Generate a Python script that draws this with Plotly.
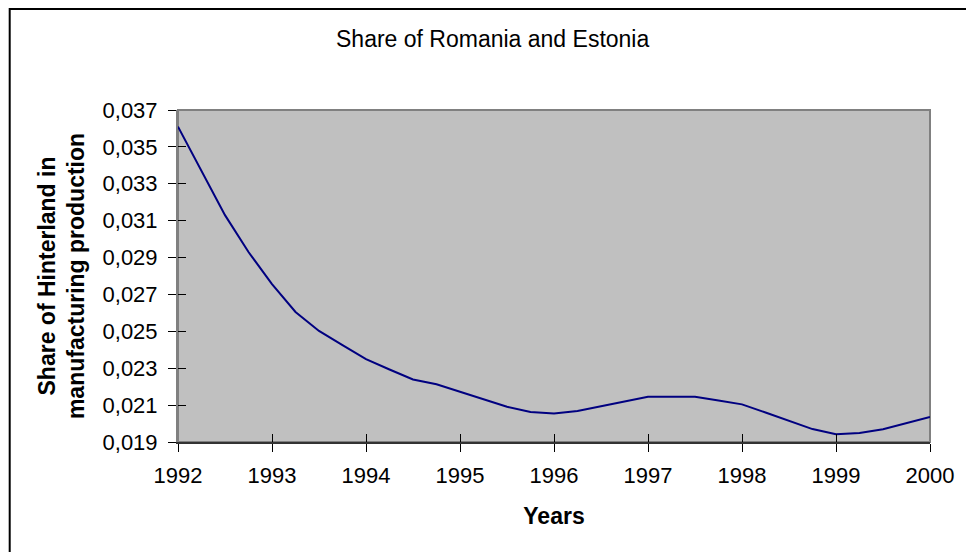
import plotly.graph_objects as go

# quarterly observations, 1992 Q1 .. 2000 Q1
years = [1992.00, 1992.25, 1992.50, 1992.75, 1993.00, 1993.25, 1993.50, 1993.75,
         1994.00, 1994.25, 1994.50, 1994.75, 1995.00, 1995.25, 1995.50, 1995.75,
         1996.00, 1996.25, 1996.50, 1996.75, 1997.00, 1997.25, 1997.50, 1997.75,
         1998.00, 1998.25, 1998.50, 1998.75, 1999.00, 1999.25, 1999.50, 1999.75,
         2000.00]
share = [0.0361, 0.0337, 0.0313, 0.0293, 0.02756, 0.02605, 0.02502, 0.02425,
         0.02349, 0.02293, 0.02239, 0.02213, 0.02172, 0.02131, 0.02091, 0.02063,
         0.02055, 0.02068, 0.02094, 0.0212, 0.02145, 0.02145, 0.02145, 0.02125,
         0.02104, 0.0206, 0.02015, 0.0197, 0.01942, 0.01949, 0.01969, 0.02002,
         0.02036]
year_ticks = [1992, 1993, 1994, 1995, 1996, 1997, 1998, 1999, 2000]
y_ticks = [0.019, 0.021, 0.023, 0.025, 0.027, 0.029, 0.031, 0.033, 0.035, 0.037]

FONT = "Liberation Sans, Arial, sans-serif"

fig = go.Figure()
fig.add_trace(go.Scatter(x=years, y=share, mode="lines",
                         line=dict(color="#000080", width=2), showlegend=False))
# invisible copy on the overlay axes, so the inner half of the cross ticks is drawn
fig.add_trace(go.Scatter(x=years, y=share, mode="lines", xaxis="x2", yaxis="y2",
                         line=dict(color="rgba(0,0,0,0)", width=0),
                         hoverinfo="skip", showlegend=False))

fig.update_layout(
    width=966, height=552,
    margin=dict(l=178, r=33, t=110, b=110),
    paper_bgcolor="white", plot_bgcolor="#C0C0C0",
    separators=",.",
    font=dict(family=FONT, size=22, color="black"),
    title=dict(text="Share of Romania and Estonia", x=0.51, xref="container",
               y=0.929, yref="container", xanchor="center", yanchor="middle",
               font=dict(family=FONT, size=23, color="black")),
    xaxis=dict(range=[1992, 2000], tickvals=year_ticks, ticks="outside", ticklen=8,
               tickcolor="black", tickwidth=1, showgrid=False, zeroline=False,
               showline=True, linecolor="#333333", linewidth=2,
               ticklabelstandoff=5,
               title=dict(text="<b>Years</b>", standoff=20,
                          font=dict(family=FONT, size=23))),
    yaxis=dict(range=[0.019, 0.037], tickvals=y_ticks, tickformat=".3f",
               ticks="outside", ticklen=8, tickcolor="black", tickwidth=1,
               showgrid=False, zeroline=False, showline=True,
               linecolor="#808080", linewidth=2, ticklabelstandoff=6,
               title=dict(text="<b>Share of Hinterland in<br>manufacturing production</b>",
                          standoff=11, font=dict(family=FONT, size=23))),
    xaxis2=dict(overlaying="x", range=[1992, 2000], tickvals=year_ticks,
                ticks="inside", ticklen=8, tickcolor="black", tickwidth=1,
                showticklabels=False, showgrid=False, zeroline=False, showline=False),
    yaxis2=dict(overlaying="y", range=[0.019, 0.037], tickvals=y_ticks,
                ticks="inside", ticklen=8, tickcolor="black", tickwidth=1,
                showticklabels=False, showgrid=False, zeroline=False, showline=False),
    shapes=[
        # plot area border
        dict(type="rect", xref="paper", yref="paper", x0=0, y0=0, x1=1, y1=1,
             line=dict(color="#808080", width=2), layer="below"),
        # outer chart frame (right and bottom edges fall outside the picture)
        dict(type="rect", xref="paper", yref="paper", x0=-0.2238, y0=-0.5,
             x1=1.2, y1=1.304, line=dict(color="black", width=2)),
    ],
)

fig.write_html("out.html", config={"displayModeBar": False},
               post_script="document.body.style.margin = '0';")
